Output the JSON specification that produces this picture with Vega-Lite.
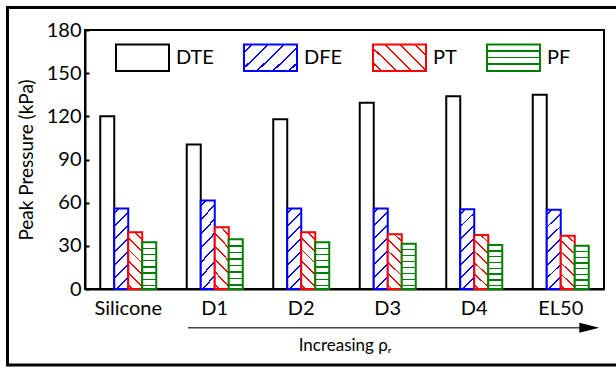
{
  "$schema": "https://vega.github.io/schema/vega-lite/v6.json",
  "width": 519,
  "height": 259,
  "autosize": {"type": "none"},
  "padding": {"left": 85, "top": 30, "right": 12, "bottom": 79},
  "background": "white",
  "config": {
    "font": "Lato",
    "view": {"stroke": "black", "strokeWidth": 2},
    "axis": {"domainColor": "black", "domainWidth": 2, "labelColor": "black", "titleColor": "black", "labelFont": "Lato", "titleFont": "Lato", "titleFontWeight": "normal", "grid": false},
    "legend": {"title": null, "orient": "none", "legendX": 30, "legendY": 0, "direction": "horizontal", "columns": 4, "symbolType": "M-1,-0.5H1V0.5H-1Z", "symbolSize": 2809, "symbolStrokeWidth": 2, "symbolOpacity": 1, "symbolFillColor": "white", "labelFont": "Lato", "labelFontSize": 20, "labelColor": "black", "labelOffset": 6, "columnPadding": 26, "padding": 0}
  },
  "layer": [
    {
      "data": {"values": []},
      "mark": {"type": "point", "filled": true, "opacity": 1},
      "encoding": {
        "fill": {
          "field": "series", "type": "nominal",
          "scale": {"domain": ["DTE", "DFE", "PT", "PF"], "range": [
            "white",
            {"expr": "{gradient: 'linear', x1: 0, y1: 0, x2: 1.199, y2: 0.611, stops: [{offset: 0, color: 'white'}, {offset: 0.087, color: 'white'}, {offset: 0.087, color: '#0000ff'}, {offset: 0.113, color: '#0000ff'}, {offset: 0.113, color: 'white'}, {offset: 0.287, color: 'white'}, {offset: 0.287, color: '#0000ff'}, {offset: 0.313, color: '#0000ff'}, {offset: 0.313, color: 'white'}, {offset: 0.487, color: 'white'}, {offset: 0.487, color: '#0000ff'}, {offset: 0.513, color: '#0000ff'}, {offset: 0.513, color: 'white'}, {offset: 0.687, color: 'white'}, {offset: 0.687, color: '#0000ff'}, {offset: 0.713, color: '#0000ff'}, {offset: 0.713, color: 'white'}, {offset: 0.887, color: 'white'}, {offset: 0.887, color: '#0000ff'}, {offset: 0.913, color: '#0000ff'}, {offset: 0.913, color: 'white'}, {offset: 1, color: 'white'}]}"},
            {"expr": "{gradient: 'linear', x1: 0, y1: 1, x2: 1.199, y2: 0.389, stops: [{offset: 0, color: 'white'}, {offset: 0.087, color: 'white'}, {offset: 0.087, color: '#ff0000'}, {offset: 0.113, color: '#ff0000'}, {offset: 0.113, color: 'white'}, {offset: 0.277, color: 'white'}, {offset: 0.277, color: '#ff0000'}, {offset: 0.303, color: '#ff0000'}, {offset: 0.303, color: 'white'}, {offset: 0.467, color: 'white'}, {offset: 0.467, color: '#ff0000'}, {offset: 0.493, color: '#ff0000'}, {offset: 0.493, color: 'white'}, {offset: 0.657, color: 'white'}, {offset: 0.657, color: '#ff0000'}, {offset: 0.683, color: '#ff0000'}, {offset: 0.683, color: 'white'}, {offset: 0.847, color: 'white'}, {offset: 0.847, color: '#ff0000'}, {offset: 0.873, color: '#ff0000'}, {offset: 0.873, color: 'white'}, {offset: 1, color: 'white'}]}"},
            {"expr": "{gradient: 'linear', x1: 0, y1: 0, x2: 0, y2: 1, stops: [{offset: 0, color: 'white'}, {offset: 0.22, color: 'white'}, {offset: 0.22, color: '#008000'}, {offset: 0.28, color: '#008000'}, {offset: 0.28, color: 'white'}, {offset: 0.47, color: 'white'}, {offset: 0.47, color: '#008000'}, {offset: 0.53, color: '#008000'}, {offset: 0.53, color: 'white'}, {offset: 0.72, color: 'white'}, {offset: 0.72, color: '#008000'}, {offset: 0.78, color: '#008000'}, {offset: 0.78, color: 'white'}, {offset: 1, color: 'white'}]}"}
          ]}
        },
        "stroke": {
          "field": "series", "type": "nominal",
          "scale": {"domain": ["DTE", "DFE", "PT", "PF"], "range": ["black", "#0000ff", "#ff0000", "#008000"]}
        }
      }
    },
    {
      "data": {"values": [{"x": -0.896, "x2": 6.3, "y": 195.6, "y2": -52.8}]},
      "mark": {"type": "rect", "filled": false, "stroke": "black", "strokeWidth": 3, "clip": false},
      "encoding": {
        "x": {"field": "x", "type": "quantitative", "scale": {"domain": [0, 6], "nice": false, "zero": false}, "axis": null},
        "x2": {"field": "x2"},
        "y": {"field": "y", "type": "quantitative", "scale": {"domain": [0, 180], "nice": false}},
        "y2": {"field": "y2"}
      }
    },
    {
      "data": {"values": [{"x": 1.19, "x2": 5.72, "y": -27}]},
      "mark": {"type": "rule", "color": "#444444", "strokeWidth": 1.5, "clip": false},
      "encoding": {
        "x": {"field": "x", "type": "quantitative", "scale": {"domain": [0, 6], "nice": false, "zero": false}, "axis": null},
        "x2": {"field": "x2"},
        "y": {"field": "y", "type": "quantitative", "scale": {"domain": [0, 180], "nice": false}}
      }
    },
    {
      "data": {"values": [{"x": 5.83, "y": -27}]},
      "mark": {"type": "point", "shape": "M-1,-0.5L1,0L-1,0.5Z", "size": 400, "filled": true, "color": "black", "opacity": 1, "clip": false},
      "encoding": {
        "x": {"field": "x", "type": "quantitative", "scale": {"domain": [0, 6], "nice": false, "zero": false}, "axis": null},
        "y": {"field": "y", "type": "quantitative", "scale": {"domain": [0, 180], "nice": false}}
      }
    },
    {
      "data": {"values": [
        {"category": "Silicone", "series": "DTE", "value": 120},
        {"category": "Silicone", "series": "DFE", "value": 56},
        {"category": "Silicone", "series": "PT", "value": 39.5},
        {"category": "Silicone", "series": "PF", "value": 32.5},
        {"category": "D1", "series": "DTE", "value": 100.5},
        {"category": "D1", "series": "DFE", "value": 61.5},
        {"category": "D1", "series": "PT", "value": 43},
        {"category": "D1", "series": "PF", "value": 34.5},
        {"category": "D2", "series": "DTE", "value": 118},
        {"category": "D2", "series": "DFE", "value": 56},
        {"category": "D2", "series": "PT", "value": 39.5},
        {"category": "D2", "series": "PF", "value": 32.5},
        {"category": "D3", "series": "DTE", "value": 129.5},
        {"category": "D3", "series": "DFE", "value": 56},
        {"category": "D3", "series": "PT", "value": 38},
        {"category": "D3", "series": "PF", "value": 31.5},
        {"category": "D4", "series": "DTE", "value": 134},
        {"category": "D4", "series": "DFE", "value": 55.5},
        {"category": "D4", "series": "PT", "value": 37.5},
        {"category": "D4", "series": "PF", "value": 30.5},
        {"category": "EL50", "series": "DTE", "value": 135},
        {"category": "EL50", "series": "DFE", "value": 55},
        {"category": "EL50", "series": "PT", "value": 37},
        {"category": "EL50", "series": "PF", "value": 30}
      ]},
      "mark": {"type": "bar", "strokeWidth": 2},
      "encoding": {
        "x": {
          "field": "category", "type": "nominal",
          "sort": ["Silicone", "D1", "D2", "D3", "D4", "EL50"],
          "scale": {"paddingInner": 0.3526, "paddingOuter": 0.1763},
          "axis": {"title": "Increasing ρᵣ", "labelAngle": 0, "ticks": false, "labelPadding": 9, "labelFontSize": 20, "titleFontSize": 17, "titlePadding": 19}
        },
        "xOffset": {
          "field": "series", "type": "nominal",
          "sort": ["DTE", "DFE", "PT", "PF"],
          "scale": {"paddingInner": 0, "paddingOuter": 0}
        },
        "y": {
          "field": "value", "type": "quantitative",
          "scale": {"domain": [0, 180], "nice": false},
          "axis": {"title": "Peak Pressure (kPa)", "values": [0, 30, 60, 90, 120, 150, 180], "tickSize": -4, "tickWidth": 2, "tickColor": "black", "labelPadding": 8, "labelFontSize": 20, "titleFontSize": 19, "titlePadding": 10}
        },
        "stroke": {
          "field": "series", "type": "nominal",
          "scale": {"domain": ["DTE", "DFE", "PT", "PF"], "range": ["black", "#0000ff", "#ff0000", "#008000"]}
        },
        "fill": {
          "condition": [
            {"test": "datum.series === 'DFE'", "value": {"gradient": "linear", "x1": 0, "y1": 0, "x2": 0.197, "y2": 1.139, "stops": [
              {"offset": 0, "color": "white"},
              {"offset": 0.04, "color": "white"}, {"offset": 0.04, "color": "#0000ff"}, {"offset": 0.06, "color": "#0000ff"}, {"offset": 0.06, "color": "white"},
              {"offset": 0.177, "color": "white"}, {"offset": 0.177, "color": "#0000ff"}, {"offset": 0.197, "color": "#0000ff"}, {"offset": 0.197, "color": "white"},
              {"offset": 0.314, "color": "white"}, {"offset": 0.314, "color": "#0000ff"}, {"offset": 0.334, "color": "#0000ff"}, {"offset": 0.334, "color": "white"},
              {"offset": 0.451, "color": "white"}, {"offset": 0.451, "color": "#0000ff"}, {"offset": 0.471, "color": "#0000ff"}, {"offset": 0.471, "color": "white"},
              {"offset": 0.588, "color": "white"}, {"offset": 0.588, "color": "#0000ff"}, {"offset": 0.608, "color": "#0000ff"}, {"offset": 0.608, "color": "white"},
              {"offset": 0.725, "color": "white"}, {"offset": 0.725, "color": "#0000ff"}, {"offset": 0.745, "color": "#0000ff"}, {"offset": 0.745, "color": "white"},
              {"offset": 0.862, "color": "white"}, {"offset": 0.862, "color": "#0000ff"}, {"offset": 0.882, "color": "#0000ff"}, {"offset": 0.882, "color": "white"},
              {"offset": 1, "color": "white"}
            ]}},
            {"test": "datum.series === 'PT'", "value": {"gradient": "linear", "x1": 0, "y1": 1, "x2": 0.289, "y2": -0.175, "stops": [
              {"offset": 0, "color": "white"},
              {"offset": 0.047, "color": "white"}, {"offset": 0.047, "color": "#ff0000"}, {"offset": 0.073, "color": "#ff0000"}, {"offset": 0.073, "color": "white"},
              {"offset": 0.214, "color": "white"}, {"offset": 0.214, "color": "#ff0000"}, {"offset": 0.24, "color": "#ff0000"}, {"offset": 0.24, "color": "white"},
              {"offset": 0.381, "color": "white"}, {"offset": 0.381, "color": "#ff0000"}, {"offset": 0.407, "color": "#ff0000"}, {"offset": 0.407, "color": "white"},
              {"offset": 0.548, "color": "white"}, {"offset": 0.548, "color": "#ff0000"}, {"offset": 0.574, "color": "#ff0000"}, {"offset": 0.574, "color": "white"},
              {"offset": 0.715, "color": "white"}, {"offset": 0.715, "color": "#ff0000"}, {"offset": 0.741, "color": "#ff0000"}, {"offset": 0.741, "color": "white"},
              {"offset": 0.882, "color": "white"}, {"offset": 0.882, "color": "#ff0000"}, {"offset": 0.908, "color": "#ff0000"}, {"offset": 0.908, "color": "white"},
              {"offset": 1, "color": "white"}
            ]}},
            {"test": "datum.series === 'PF'", "value": {"gradient": "linear", "x1": 0, "y1": 0, "x2": 0, "y2": 1, "stops": [
              {"offset": 0, "color": "white"},
              {"offset": 0.117, "color": "white"}, {"offset": 0.117, "color": "#008000"}, {"offset": 0.147, "color": "#008000"}, {"offset": 0.147, "color": "white"},
              {"offset": 0.249, "color": "white"}, {"offset": 0.249, "color": "#008000"}, {"offset": 0.279, "color": "#008000"}, {"offset": 0.279, "color": "white"},
              {"offset": 0.381, "color": "white"}, {"offset": 0.381, "color": "#008000"}, {"offset": 0.411, "color": "#008000"}, {"offset": 0.411, "color": "white"},
              {"offset": 0.513, "color": "white"}, {"offset": 0.513, "color": "#008000"}, {"offset": 0.543, "color": "#008000"}, {"offset": 0.543, "color": "white"},
              {"offset": 0.645, "color": "white"}, {"offset": 0.645, "color": "#008000"}, {"offset": 0.675, "color": "#008000"}, {"offset": 0.675, "color": "white"},
              {"offset": 0.777, "color": "white"}, {"offset": 0.777, "color": "#008000"}, {"offset": 0.807, "color": "#008000"}, {"offset": 0.807, "color": "white"},
              {"offset": 0.909, "color": "white"}, {"offset": 0.909, "color": "#008000"}, {"offset": 0.939, "color": "#008000"}, {"offset": 0.939, "color": "white"},
              {"offset": 1, "color": "white"}
            ]}}
          ],
          "value": "white"
        }
      }
    }
  ],
  "resolve": {"scale": {"x": "independent"}}
}
